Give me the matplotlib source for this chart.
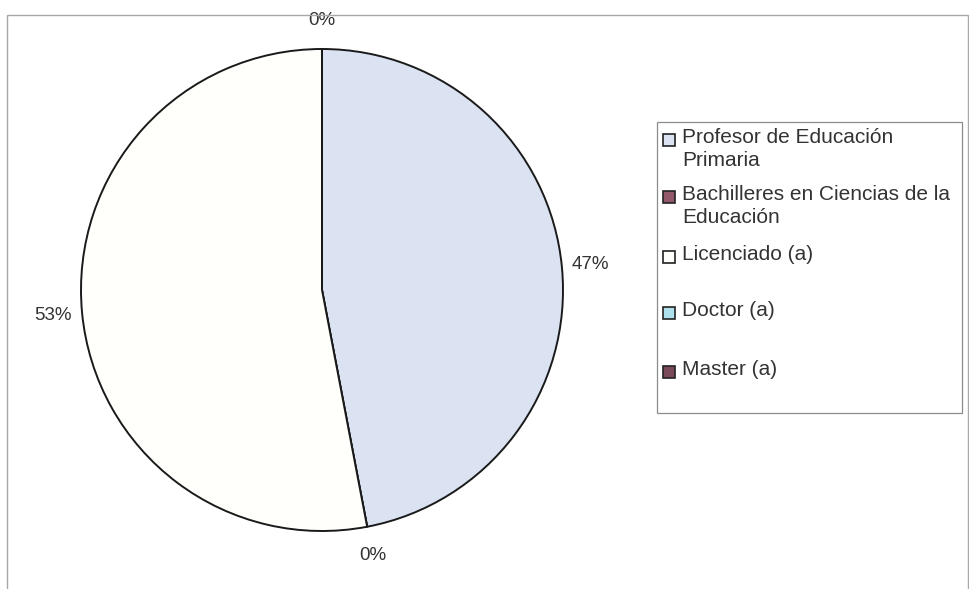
import matplotlib
matplotlib.use("Agg")
import matplotlib.pyplot as plt
from matplotlib.patches import Rectangle

plt.rcParams["font.family"] = ["Liberation Sans", "DejaVu Sans"]

categories = ["Profesor de Educación\nPrimaria",
              "Bachilleres en Ciencias de la\nEducación",
              "Licenciado (a)",
              "Doctor (a)",
              "Master (a)"]
values = [47, 0, 53, 0, 0]
colors = ["#dbe3f3", "#93596b", "#fffffb", "#aee0ec", "#7b4a5a"]

W, H = 969, 589
fig = plt.figure(figsize=(W / 100, H / 100), dpi=100, facecolor="white")

# outer chart frame
fig.patches.append(Rectangle((7 / W, -0.05), 961 / W, 1.05 - 15 / H,
                             transform=fig.transFigure, fill=False,
                             ec="#a8a8a8", lw=1.0))

# pie: centre (322, 290) px, radius 241 px
cx, cy, r = 322, 290, 241
ax = fig.add_axes([(cx - r) / W, (H - cy - r) / H, 2 * r / W, 2 * r / H])
wedges, texts, autotexts = ax.pie(
    values, colors=colors, startangle=90, counterclock=False,
    autopct=lambda p: "%d%%" % round(p), pctdistance=1.12,
    wedgeprops=dict(edgecolor="#1a1a1a", linewidth=1.4),
    textprops=dict(fontsize=13.5, color="#333333"))
ax.set_xlim(-1, 1)
ax.set_ylim(-1, 1)
ax.set_aspect("equal")
ax.axis("off")
# zero slices that share the same spot only get one label
seen = []
for t in autotexts:
    t.set_clip_on(False)
    x, y = t.get_position()
    if any(abs(x - a) < 0.02 and abs(y - b) < 0.02 for a, b in seen):
        t.set_visible(False)
    seen.append((x, y))

# legend drawn by hand so each entry sits on its own fixed row
fig.patches.append(Rectangle((657 / W, 1 - 413 / H), 305 / W, 291 / H,
                             transform=fig.transFigure, fill=False,
                             ec="#8c8c8c", lw=0.9))
row_y = [140, 197, 257, 313, 372]
for lab, col, y in zip(categories, colors, row_y):
    fig.patches.append(Rectangle((663 / W, 1 - (y + 6) / H), 12 / W, 12 / H,
                                 transform=fig.transFigure,
                                 fc=col, ec="#222222", lw=1.2))
    fig.text(682 / W, 1 - (y - 12) / H, lab, fontsize=15, color="#333333",
             va="top", ha="left", linespacing=1.28)

fig.savefig("out.png", dpi=100, facecolor="white")
